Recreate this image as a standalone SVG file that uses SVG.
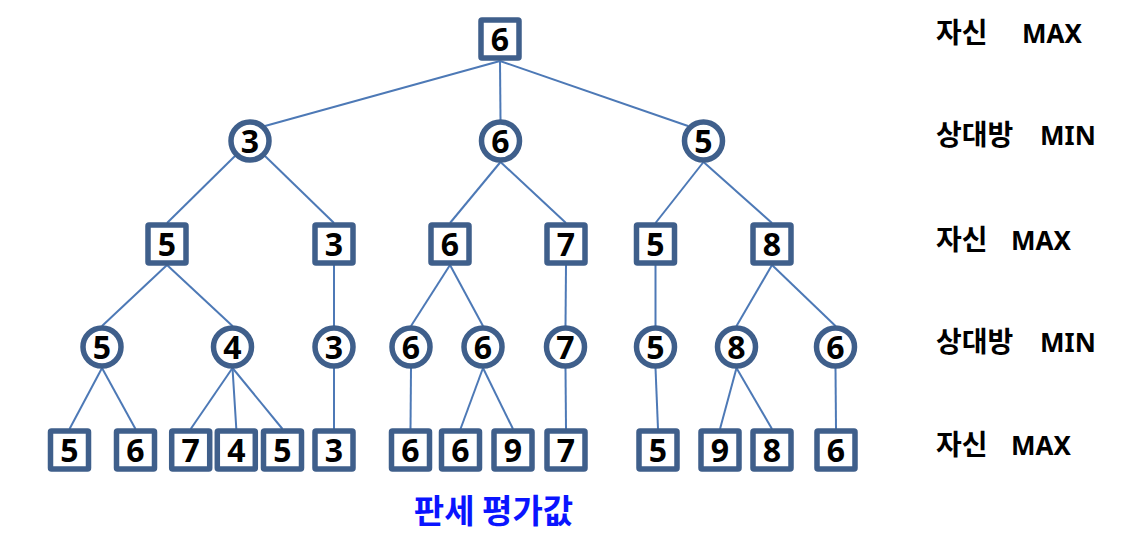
<svg xmlns="http://www.w3.org/2000/svg" width="1126" height="542" viewBox="0 0 1126 542">
<style>
.bx{fill:#fff;stroke:#3f5f8b;stroke-width:5.5}
.ci{fill:#fff;stroke:#3f5f8b;stroke-width:5.5}
.n{font-family:"Noto Sans","Liberation Sans",sans-serif;font-weight:bold;font-size:32px;fill:#000;text-anchor:middle}
.lb{font-family:"Noto Sans","Noto Sans CJK KR",sans-serif;font-weight:bold;font-size:28px;fill:#000}
.lt{font-size:26px}
.ft{font-family:"Noto Sans CJK KR",sans-serif;font-weight:bold;font-size:33px;fill:#0a14ff;text-anchor:middle}
#edges line{stroke:#4d79b6;stroke-width:2}
</style>
<rect width="1126" height="542" fill="#fff"/>
<g id="edges">
<line x1="500" y1="61" x2="265" y2="126"/>
<line x1="500" y1="61" x2="500.5" y2="120"/>
<line x1="500" y1="61" x2="688" y2="126"/>
<line x1="235" y1="156" x2="167" y2="223"/>
<line x1="265" y1="156" x2="334" y2="223"/>
<line x1="500.5" y1="162" x2="450" y2="223"/>
<line x1="500.5" y1="162" x2="566" y2="223"/>
<line x1="703.5" y1="162" x2="655.5" y2="223"/>
<line x1="703.5" y1="162" x2="772" y2="223"/>
<line x1="167" y1="265" x2="102" y2="326"/>
<line x1="167" y1="265" x2="232.5" y2="326"/>
<line x1="334" y1="265" x2="334" y2="326"/>
<line x1="450" y1="265" x2="411" y2="326"/>
<line x1="450" y1="265" x2="483" y2="326"/>
<line x1="566" y1="265" x2="565.5" y2="326"/>
<line x1="655.5" y1="265" x2="655.5" y2="326"/>
<line x1="772" y1="265" x2="736.5" y2="326"/>
<line x1="772" y1="265" x2="835.5" y2="326"/>
<line x1="102" y1="368" x2="69.5" y2="429"/>
<line x1="102" y1="368" x2="135.5" y2="429"/>
<line x1="232.5" y1="368" x2="190.7" y2="429"/>
<line x1="232.5" y1="368" x2="236.3" y2="429"/>
<line x1="232.5" y1="368" x2="282.5" y2="429"/>
<line x1="334" y1="368" x2="334" y2="429"/>
<line x1="411" y1="368" x2="410.5" y2="429"/>
<line x1="483" y1="368" x2="460.5" y2="429"/>
<line x1="483" y1="368" x2="513" y2="429"/>
<line x1="565.5" y1="368" x2="566" y2="429"/>
<line x1="655.5" y1="368" x2="658" y2="429"/>
<line x1="736.5" y1="368" x2="720" y2="429"/>
<line x1="736.5" y1="368" x2="772" y2="429"/>
<line x1="835.5" y1="368" x2="836" y2="429"/>
</g>
<g id="r0"><rect class="bx" x="481" y="20" width="38" height="38" rx="1"/><text class="n" x="500" y="51">6</text></g>
<g id="m1a"><circle class="ci" cx="250" cy="141" r="19"/><text class="n" x="250" y="152.5">3</text></g>
<g id="m1b"><circle class="ci" cx="500.5" cy="141" r="19"/><text class="n" x="500.5" y="152.5">6</text></g>
<g id="m1c"><circle class="ci" cx="703.5" cy="141" r="19"/><text class="n" x="703.5" y="152.5">5</text></g>
<g id="x2a"><rect class="bx" x="148" y="225" width="38" height="38" rx="1"/><text class="n" x="167" y="256">5</text></g>
<g id="x2b"><rect class="bx" x="315" y="225" width="38" height="38" rx="1"/><text class="n" x="334" y="256">3</text></g>
<g id="x2c"><rect class="bx" x="431" y="225" width="38" height="38" rx="1"/><text class="n" x="450" y="256">6</text></g>
<g id="x2d"><rect class="bx" x="547" y="225" width="38" height="38" rx="1"/><text class="n" x="566" y="256">7</text></g>
<g id="x2e"><rect class="bx" x="636.5" y="225" width="38" height="38" rx="1"/><text class="n" x="655.5" y="256">5</text></g>
<g id="x2f"><rect class="bx" x="753" y="225" width="38" height="38" rx="1"/><text class="n" x="772" y="256">8</text></g>
<g id="m3a"><circle class="ci" cx="102" cy="347" r="19"/><text class="n" x="102" y="358.5">5</text></g>
<g id="m3b"><circle class="ci" cx="232.5" cy="347" r="19"/><text class="n" x="232.5" y="358.5">4</text></g>
<g id="m3c"><circle class="ci" cx="334" cy="347" r="19"/><text class="n" x="334" y="358.5">3</text></g>
<g id="m3d"><circle class="ci" cx="411" cy="347" r="19"/><text class="n" x="411" y="358.5">6</text></g>
<g id="m3e"><circle class="ci" cx="483" cy="347" r="19"/><text class="n" x="483" y="358.5">6</text></g>
<g id="m3f"><circle class="ci" cx="565.5" cy="347" r="19"/><text class="n" x="565.5" y="358.5">7</text></g>
<g id="m3g"><circle class="ci" cx="655.5" cy="347" r="19"/><text class="n" x="655.5" y="358.5">5</text></g>
<g id="m3h"><circle class="ci" cx="736.5" cy="347" r="19"/><text class="n" x="736.5" y="358.5">8</text></g>
<g id="m3i"><circle class="ci" cx="835.5" cy="347" r="19"/><text class="n" x="835.5" y="358.5">6</text></g>
<g id="l1"><rect class="bx" x="50.5" y="431" width="38" height="38" rx="1"/><text class="n" x="69.5" y="462">5</text></g>
<g id="l2"><rect class="bx" x="116.5" y="431" width="38" height="38" rx="1"/><text class="n" x="135.5" y="462">6</text></g>
<g id="l3"><rect class="bx" x="171.7" y="431" width="38" height="38" rx="1"/><text class="n" x="190.7" y="462">7</text></g>
<g id="l4"><rect class="bx" x="217.3" y="431" width="38" height="38" rx="1"/><text class="n" x="236.3" y="462">4</text></g>
<g id="l5"><rect class="bx" x="263.5" y="431" width="38" height="38" rx="1"/><text class="n" x="282.5" y="462">5</text></g>
<g id="l6"><rect class="bx" x="315" y="431" width="38" height="38" rx="1"/><text class="n" x="334" y="462">3</text></g>
<g id="l7"><rect class="bx" x="391.5" y="431" width="38" height="38" rx="1"/><text class="n" x="410.5" y="462">6</text></g>
<g id="l8"><rect class="bx" x="441.5" y="431" width="38" height="38" rx="1"/><text class="n" x="460.5" y="462">6</text></g>
<g id="l9"><rect class="bx" x="494" y="431" width="38" height="38" rx="1"/><text class="n" x="513" y="462">9</text></g>
<g id="l10"><rect class="bx" x="547" y="431" width="38" height="38" rx="1"/><text class="n" x="566" y="462">7</text></g>
<g id="l11"><rect class="bx" x="639" y="431" width="38" height="38" rx="1"/><text class="n" x="658" y="462">5</text></g>
<g id="l12"><rect class="bx" x="701" y="431" width="38" height="38" rx="1"/><text class="n" x="720" y="462">9</text></g>
<g id="l13"><rect class="bx" x="753" y="431" width="38" height="38" rx="1"/><text class="n" x="772" y="462">8</text></g>
<g id="l14"><rect class="bx" x="817" y="431" width="38" height="38" rx="1"/><text class="n" x="836" y="462">6</text></g>
<g id="labels">
<text class="lb" x="936" y="43">자신 <tspan class="lt" x="1022">MAX</tspan></text>
<text class="lb" x="936" y="145">상대방 <tspan class="lt" x="1040">MIN</tspan></text>
<text class="lb" x="936" y="250">자신 <tspan class="lt" x="1011">MAX</tspan></text>
<text class="lb" x="936" y="352">상대방 <tspan class="lt" x="1040">MIN</tspan></text>
<text class="lb" x="936" y="455">자신 <tspan class="lt" x="1011">MAX</tspan></text>
<text class="ft" x="493.5" y="523">판세 평가값</text>
</g>
</svg>
